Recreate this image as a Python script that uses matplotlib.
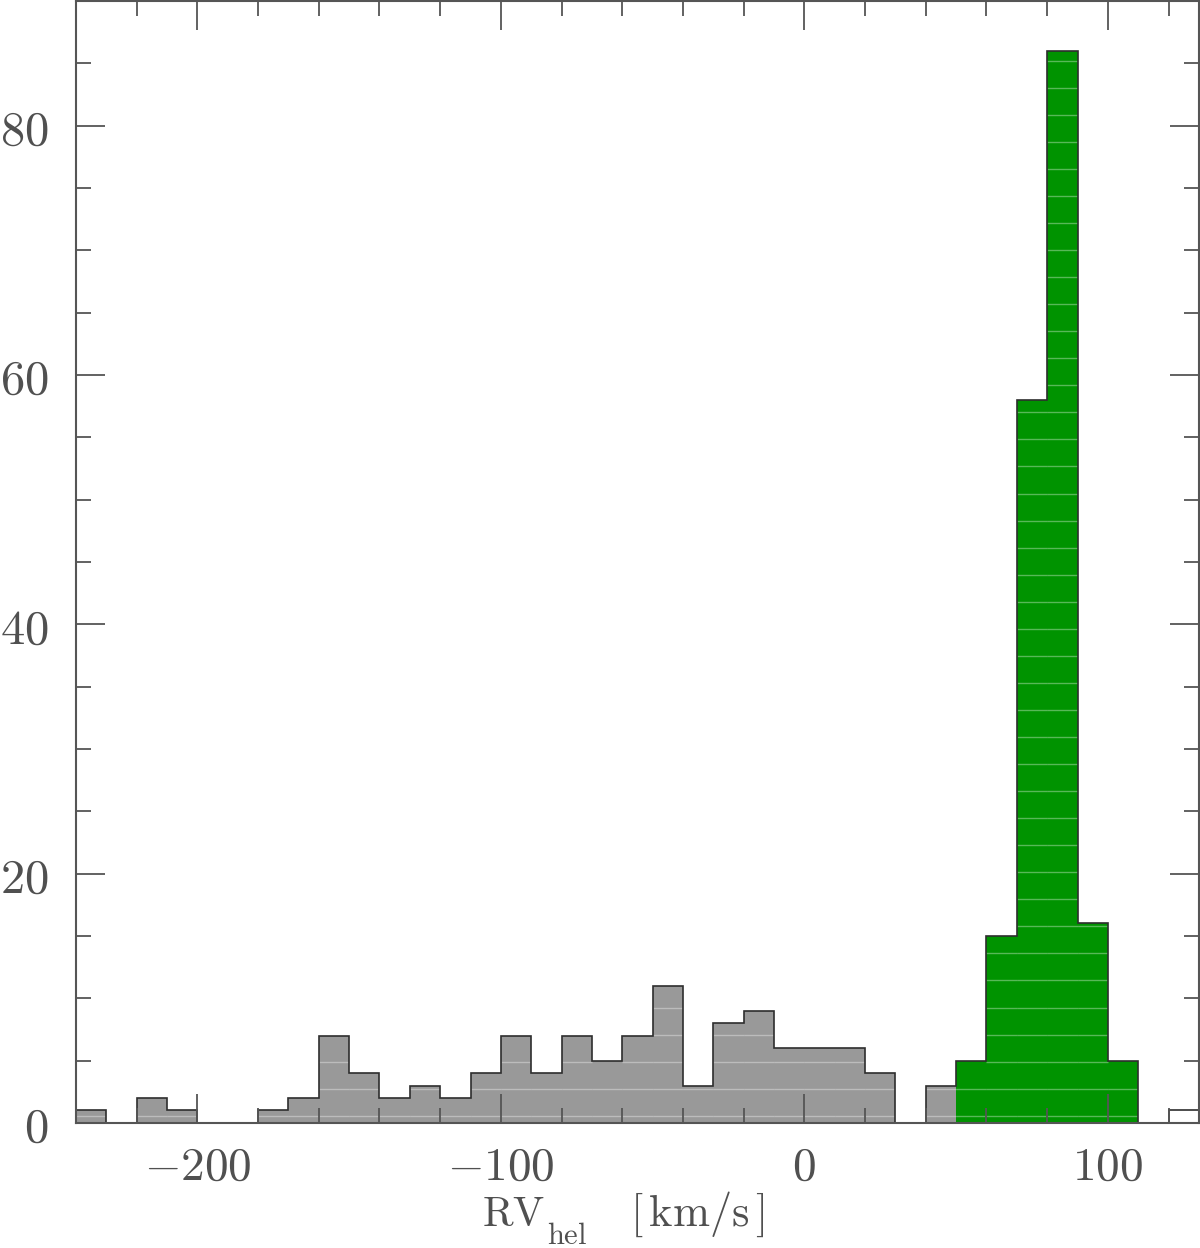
import numpy as np
import matplotlib
matplotlib.use("Agg")
import matplotlib.pyplot as plt
from matplotlib.ticker import MultipleLocator, FixedLocator

plt.rcParams["mathtext.fontset"] = "cm"

# =========================
# Data
# =========================

BIN_START = -240
BIN_WIDTH = 10
counts = [1, 0, 2, 1, 0, 0, 1, 2, 7, 4, 2, 3, 2, 4, 7, 4, 7, 5, 7, 11,
          3, 8, 9, 6, 6, 6, 4, 0, 3, 5, 15, 58, 86, 16, 5, 0, 1]
member_range = (50, 110)      # green bins
outlier_range = (120, 130)    # unfilled bin at the far right

x_ticks = [-200, -100, 0, 100]
y_ticks = [0, 20, 40, 60, 80]

GRAY = "#999999"
GREEN = "#009300"
EDGE = "#2e2e2e"
AXCOL = "#555555"
TXT = "#505050"

edges = BIN_START + BIN_WIDTH * np.arange(len(counts) + 1)

W, H = 1200, 1248

# =========================
# Figure
# =========================

fig = plt.figure(figsize=(W / 100, H / 100), dpi=100)
ax = fig.add_axes([0.0633, 0.1002, 0.9358, 0.8990])

# faint horizontal scan lines seen inside the filled bars
stripe_levels = np.arange(0.58, 90, 2.17)

for lo, hi, c in zip(edges[:-1], edges[1:], counts):
    if c == 0:
        continue
    if member_range[0] <= lo < member_range[1]:
        fc = GREEN
    elif outlier_range[0] <= lo < outlier_range[1]:
        fc = "white"
    else:
        fc = GRAY
    ax.bar(lo, c, width=BIN_WIDTH, align="edge", color=fc, lw=0, zorder=1)
    if fc != "white":
        lv = stripe_levels[stripe_levels < c - 0.2]
        ax.hlines(lv, lo, hi, colors="white", alpha=0.35, lw=1.0, zorder=1.2)

ax.stairs(counts, edges, color=EDGE, lw=1.2, baseline=0, zorder=1.5)

ax.set_xlim(-240, 130)
ax.set_ylim(0, 90)

ax.xaxis.set_major_locator(FixedLocator(x_ticks))
ax.xaxis.set_minor_locator(MultipleLocator(20))
ax.yaxis.set_major_locator(FixedLocator(y_ticks))
ax.yaxis.set_minor_locator(MultipleLocator(5))

ax.set_xticklabels([f"${v}$" for v in x_ticks])
ax.set_yticklabels([f"${v}$" for v in y_ticks])

ax.tick_params(which="both", direction="in", top=True, right=True,
               color=AXCOL, width=1.3, labelcolor=TXT)
ax.tick_params(which="major", length=21)
ax.tick_params(which="minor", length=10.5)
ax.tick_params(axis="x", pad=16, labelsize=34)
ax.tick_params(axis="y", pad=20, labelsize=35)

for s in ax.spines.values():
    s.set_color(AXCOL)
    s.set_linewidth(1.5)

# x label built from pieces so the subscript sits low, as in the original
fig.text(482 / W, 1 - 1226 / H, r"$\mathrm{RV}$", fontsize=30, color=TXT,
         ha="left", va="baseline")
fig.text(547 / W, 1 - 1244 / H, r"$\mathrm{hel}$", fontsize=22, color=TXT,
         ha="left", va="baseline")
fig.text(630 / W, 1 - 1226 / H, r"$[\,\mathrm{km/s}\,]$", fontsize=32,
         color=TXT, ha="left", va="baseline")

fig.savefig("out.png", dpi=100)
